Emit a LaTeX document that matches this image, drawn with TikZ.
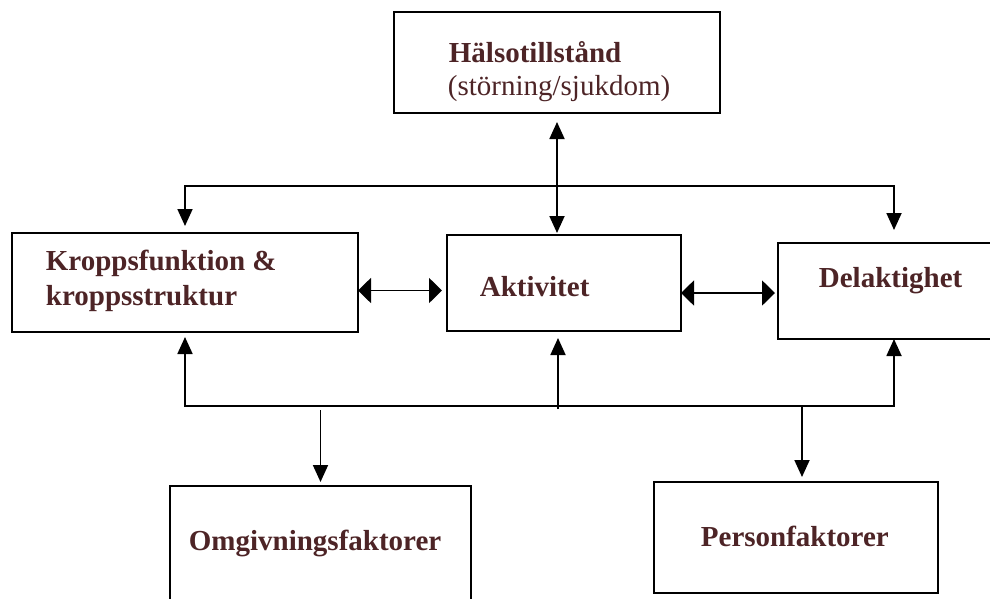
\documentclass[tikz,border=0pt]{standalone}
\usepackage{fontspec}
\setmainfont{Liberation Serif}
\usetikzlibrary{arrows.meta, calc}
\definecolor{cbrown}{HTML}{4D2426}
\tikzset{
  every picture/.style={line width=1.8pt},
  box/.style={draw=black, line width=1.8pt, inner sep=0pt, outer sep=0pt},
  lbl/.style={font=\fontsize{29}{33}\selectfont\bfseries, text=cbrown, inner sep=0pt, anchor=base west},
  arr/.style={-{Triangle[length=17pt, width=15pt]}},
  biarr/.style={{Triangle[length=17pt, width=15pt]}-{Triangle[length=17pt, width=15pt]}},
  hbiarr/.style={{Triangle[length=13pt, width=25pt]}-{Triangle[length=13pt, width=25pt]}},
}

\begin{document}
\begin{tikzpicture}[x=1pt, y=-1pt]
  \useasboundingbox (0,0) rectangle (990,598);
  \clip (0,0) rectangle (990,598);
  % boxes
  \node[box, minimum width=326pt, minimum height=101pt] (halsa) at (557,62.5) {};
  \node[box, minimum width=346pt, minimum height=99pt] (kropp) at (185,282.5) {};
  \node[box, minimum width=234pt, minimum height=96pt] (aktiv) at (564,283) {};
  \node[box, minimum width=232pt, minimum height=96pt] (delakt) at (894,291) {};
  \node[box, minimum width=301pt, minimum height=154pt] (omgiv) at (320.5,563) {};
  \node[box, minimum width=284pt, minimum height=111pt] (person) at (796,537.5) {};
  % texts
  \node[lbl] (halsa-a) at (448,62) {Hälsotillstånd};
  \node[lbl, font=\fontsize{29}{33}\selectfont\mdseries] (halsa-b) at (447,95) {(störning/sjukdom)};
  \node[lbl] (kropp-a) at (45,270) {Kroppsfunktion \&};
  \node[lbl] (kropp-b) at (45,305) {kroppsstruktur};
  \node[lbl] (aktiv-t) at (479,296) {Aktivitet};
  \node[lbl] (delakt-t) at (818,287) {Delaktighet};
  \node[lbl] (omgiv-t) at (188,550) {Omgivningsfaktorer};
  \node[lbl] (person-t) at (700,546) {Personfaktorer};
  % top branch
  \coordinate (jt) at (557,186);
  \draw[arr, shorten >=7pt] (jt) -| (kropp.north);
  \draw[arr, shorten >=13pt] (jt) -| (delakt.north);
  \draw[biarr, shorten <=9pt, shorten >=2pt] (halsa.south) -- (halsa.south |- aktiv.north);
  % middle row
  \draw[hbiarr, shorten >=5pt] ([yshift=-8pt]kropp.east) -- ([yshift=-8pt]kropp.east -| aktiv.west);
  \draw[hbiarr, shorten >=3pt] ([yshift=-10pt]aktiv.east) -- ([yshift=-10pt]aktiv.east -| delakt.west);
  % bottom branch
  \coordinate (jb) at (558,406);
  \coordinate (jp) at (802,406);
  \draw[arr, shorten >=5pt] (jb) -| (kropp.south);
  \draw[arr] (jb) -| (delakt.south);
  \draw[arr, shorten >=7pt] ([yshift=-3pt]jb) -- (jb |- aktiv.south);
  \draw[arr, shorten <=4pt, shorten >=4pt] (jb -| omgiv.north) -- (omgiv.north);
  \draw[arr, shorten >=5pt] (jp) -- (jp |- person.north);
\end{tikzpicture}
\end{document}
